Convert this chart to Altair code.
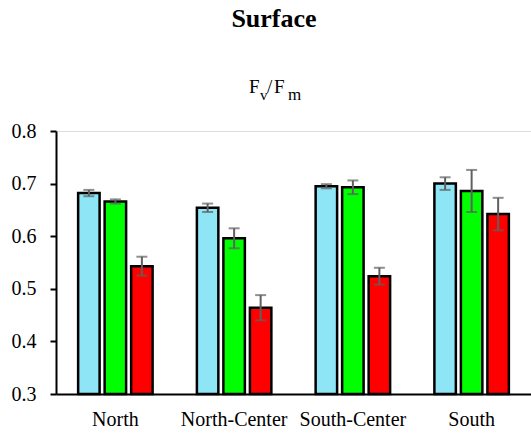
import altair as alt
import pandas as pd

regions = ["North", "North-Center", "South-Center", "South"]
series = ["Series 1", "Series 2", "Series 3"]
colors = ["#8ee5f5", "#00ff00", "#ff0000"]

cyan_vals = [0.682, 0.654, 0.695, 0.700]
green_vals = [0.666, 0.596, 0.693, 0.686]
red_vals = [0.543, 0.464, 0.524, 0.642]

cyan_err = [0.006, 0.008, 0.004, 0.012]
green_err = [0.004, 0.019, 0.013, 0.040]
red_err = [0.018, 0.024, 0.016, 0.031]

rows = []
for s, vals, errs in zip(series, [cyan_vals, green_vals, red_vals], [cyan_err, green_err, red_err]):
    for r, v, e in zip(regions, vals, errs):
        rows.append({"region": r, "series": s, "value": v, "lo": v - e, "hi": v + e})
df = pd.DataFrame(rows)

FONT = "Liberation Serif"

x_enc = alt.X("region:N", sort=regions,
              scale=alt.Scale(paddingInner=0, paddingOuter=0),
              axis=alt.Axis(title=None, labelAngle=0, ticks=False, tickSize=0, labelPadding=15,
                            labelFont=FONT, labelFontSize=20, labelColor="#000000",
                            domainColor="#000000", domainWidth=2))
xo_enc = alt.XOffset("series:N", sort=series,
                     scale=alt.Scale(paddingInner=0.19, paddingOuter=0.835))
y_scale = alt.Scale(domain=[0.3, 0.8], zero=False, nice=False)

bars = alt.Chart(df).mark_bar(stroke="#000000", strokeWidth=2.5).encode(
    x=x_enc,
    xOffset=xo_enc,
    y=alt.Y("value:Q", scale=y_scale,
            axis=alt.Axis(title=None, values=[0.3, 0.4, 0.5, 0.6, 0.7, 0.8], format=".1f",
                          grid=False, tickSize=6, tickWidth=2, tickColor="#000000",
                          domainColor="#000000", domainWidth=2, labelPadding=14,
                          labelFont=FONT, labelFontSize=20, labelColor="#000000")),
    y2=alt.datum(0.3),
    color=alt.Color("series:N", sort=series,
                    scale=alt.Scale(domain=series, range=colors), legend=None),
)

err_rule = alt.Chart(df).mark_rule(color="#606060", strokeWidth=2).encode(
    x=alt.X("region:N", sort=regions), xOffset=alt.XOffset("series:N", sort=series),
    y="lo:Q", y2="hi:Q")
cap_lo = alt.Chart(df).mark_tick(color="#606060", size=11, thickness=2).encode(
    x=alt.X("region:N", sort=regions), xOffset=alt.XOffset("series:N", sort=series),
    y="lo:Q")
cap_hi = alt.Chart(df).mark_tick(color="#606060", size=11, thickness=2).encode(
    x=alt.X("region:N", sort=regions), xOffset=alt.XOffset("series:N", sort=series),
    y="hi:Q")

def label(txt, x, y, size, bold=False, align="left"):
    return alt.Chart(pd.DataFrame({"t": [txt]})).mark_text(
        font=FONT, fontSize=size, fontWeight="bold" if bold else "normal",
        align=align, baseline="alphabetic", color="#000000").encode(
        text="t:N", x=alt.value(x), y=alt.value(y))

title_surface = label("Surface", 218, -104, 26, bold=True, align="center")
t1 = label("F", 193, -38, 19)
t2 = label("v", 204, -31, 15)
t3 = label("/", 211, -38, 19)
t4 = label("F", 218, -38, 19)
t5 = label("m", 232, -31, 17)

chart = alt.layer(bars, err_rule, cap_lo, cap_hi, title_surface, t1, t2, t3, t4, t5).properties(
    width=475, height=263,
    autosize=alt.AutoSizeParams(type="none"),
    padding={"left": 56, "top": 131, "right": 0, "bottom": 42},
).configure_view(stroke=None).configure(background="#ffffff")

chart.save("out.html", embed_options={"renderer": "svg", "actions": False})
